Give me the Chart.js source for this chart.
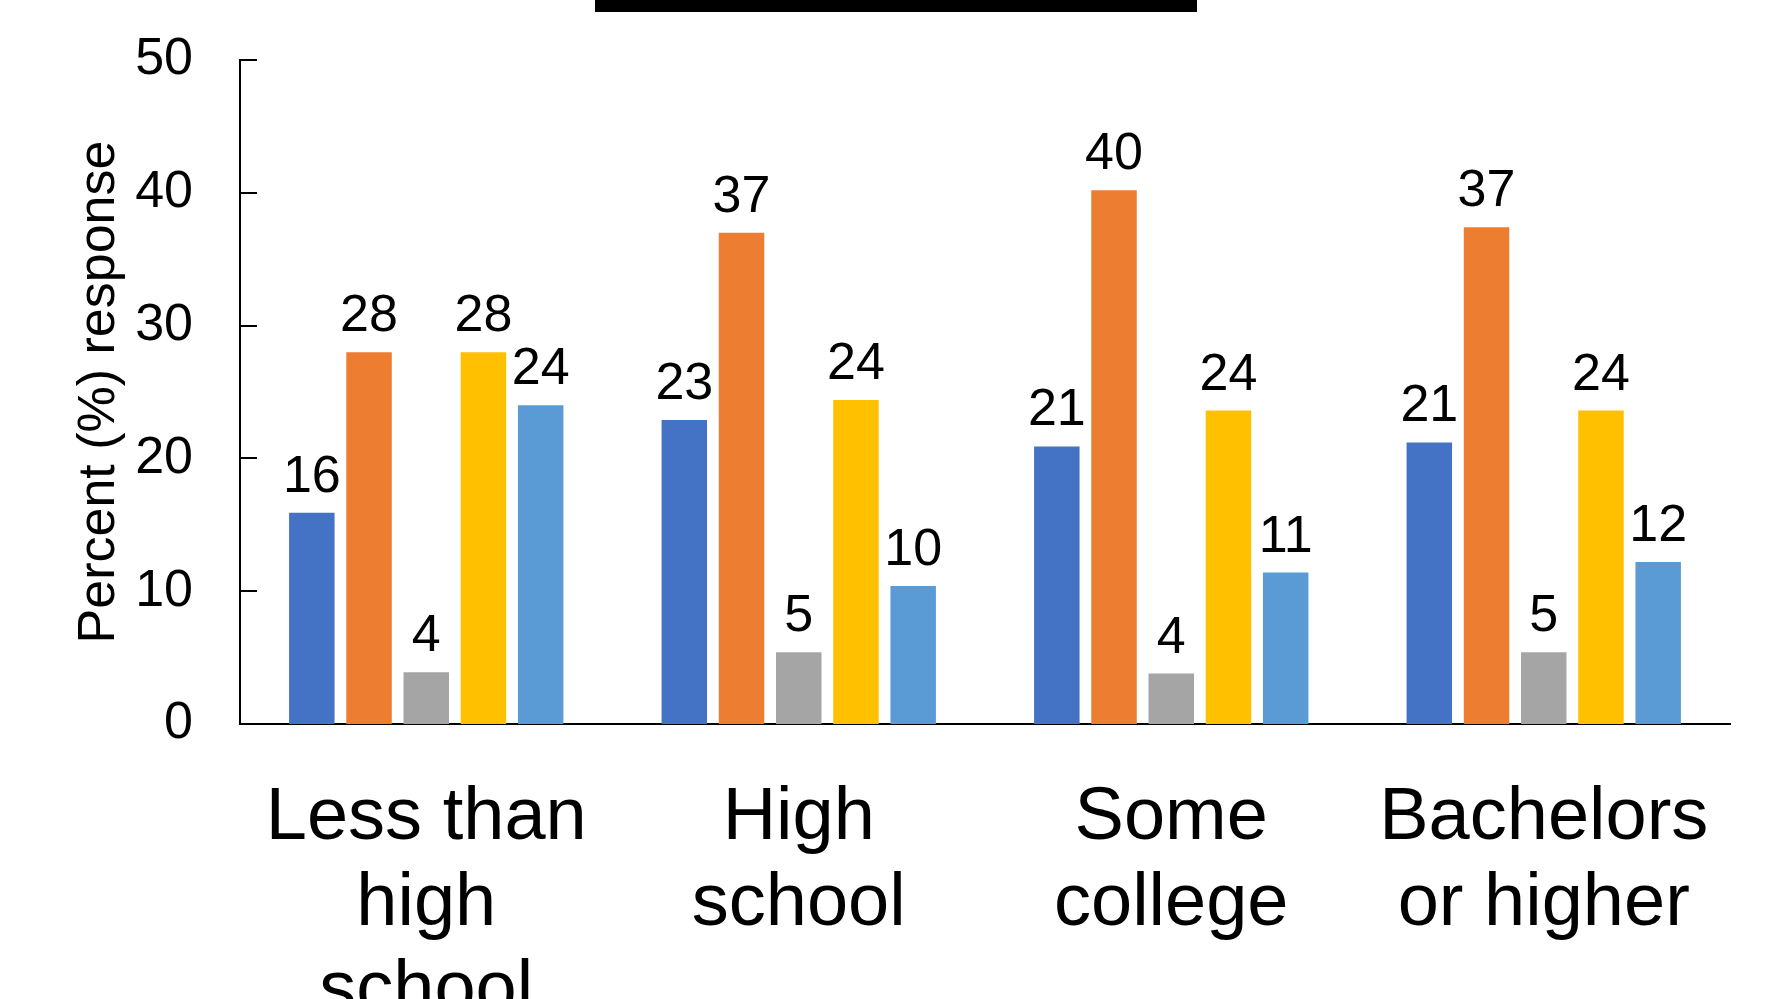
<!DOCTYPE html>
<html lang="en">
<head>
    <meta charset="UTF-8">
    <title>Percent response by education</title>
    <script src="https://cdn.jsdelivr.net/npm/chart.js"></script>
    <style>
        body { margin: 0; overflow: hidden; background: #fff; }
    </style>
</head>
<body>
<canvas id="myChart" width="1783" height="1040"></canvas>

<script>
    const categories = [
        ['Less than', 'high', 'school'],
        ['High', 'school'],
        ['Some', 'college'],
        ['Bachelors', 'or higher']
    ];
    const seriesNames = ['Series 1', 'Series 2', 'Series 3', 'Series 4', 'Series 5'];
    const seriesColors = ['#4472C4', '#ED7D31', '#A5A5A5', '#FFC000', '#5B9BD5'];
    const series1 = [15.9, 22.9, 20.9, 21.2];
    const series2 = [28.0, 37.0, 40.2, 37.4];
    const series3 = [3.9, 5.4, 3.8, 5.4];
    const series4 = [28.0, 24.4, 23.6, 23.6];
    const series5 = [24.0, 10.4, 11.4, 12.2];
    const yTicks = [0, 10, 20, 30, 40, 50];

    const font = '"Liberation Sans", Arial, sans-serif';

    // value labels above bars
    const barLabels = {
        id: 'barLabels',
        afterDatasetsDraw(chart) {
            const ctx = chart.ctx;
            ctx.save();
            ctx.fillStyle = '#000';
            ctx.font = '52px ' + font;
            ctx.textAlign = 'center';
            ctx.textBaseline = 'alphabetic';
            chart.data.datasets.forEach((ds, i) => {
                chart.getDatasetMeta(i).data.forEach((bar, j) => {
                    ctx.fillText(Math.round(ds.data[j]), bar.x, bar.y - 21);
                });
            });
            ctx.restore();
        }
    };

    // tick marks pointing into the plot, and the title underline
    const extras = {
        id: 'extras',
        afterDraw(chart) {
            const ctx = chart.ctx;
            const y = chart.scales.y;
            ctx.save();
            ctx.strokeStyle = '#000';
            ctx.lineWidth = 2;
            yTicks.forEach(v => {
                const py = Math.round(y.getPixelForValue(v));
                ctx.beginPath();
                ctx.moveTo(chart.chartArea.left, py);
                ctx.lineTo(chart.chartArea.left + 17, py);
                ctx.stroke();
            });
            ctx.fillStyle = '#000';
            ctx.fillRect(595, 0, 602, 12);
            ctx.restore();
        }
    };

    const datasets = [series1, series2, series3, series4, series5].map((d, i) => ({
        label: seriesNames[i],
        data: d,
        backgroundColor: seriesColors[i],
        categoryPercentage: 0.768,
        barPercentage: 0.795
    }));

    new Chart(document.getElementById('myChart').getContext('2d'), {
        type: 'bar',
        data: { labels: categories, datasets: datasets },
        plugins: [barLabels, extras],
        options: {
            responsive: false,
            animation: false,
            layout: { padding: { left: 20, right: 53, top: 60, bottom: 0 } },
            plugins: {
                legend: { display: false },
                tooltip: { enabled: false }
            },
            scales: {
                x: {
                    grid: { display: false, drawTicks: false },
                    border: { display: true, color: '#000', width: 2 },
                    ticks: {
                        color: '#000',
                        padding: 51,
                        maxRotation: 0,
                        autoSkip: false,
                        font: { family: font, size: 74, lineHeight: 1.17 }
                    },
                    afterFit(scale) {
                        scale.height = 316;
                        scale.paddingLeft = 0;
                        scale.paddingRight = 0;
                    }
                },
                y: {
                    min: 0,
                    max: 50,
                    grid: { display: false, drawTicks: false },
                    border: { display: true, color: '#000', width: 2 },
                    ticks: {
                        stepSize: 10,
                        color: '#000',
                        padding: 47,
                        font: { family: font, size: 52 }
                    },
                    title: {
                        display: true,
                        text: 'Percent (%) response',
                        color: '#000',
                        padding: { top: 48, bottom: 6 },
                        font: { family: font, size: 52 }
                    },
                    afterFit(scale) {
                        scale.width = 220;
                        scale.paddingTop = 0;
                        scale.paddingBottom = 0;
                    }
                }
            }
        }
    });
</script>
</body>
</html>
